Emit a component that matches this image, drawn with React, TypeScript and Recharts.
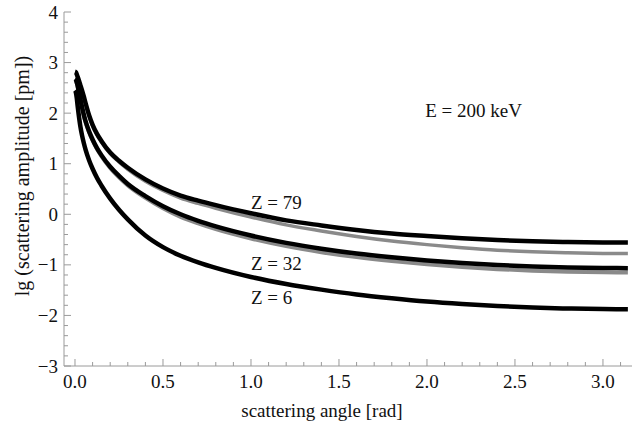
import React from 'react';
import { LineChart, Line, XAxis, YAxis, ReferenceDot } from 'recharts';

const angles = [0, 0.005, 0.01, 0.015, 0.02, 0.03, 0.04, 0.05, 0.06, 0.08, 0.1, 0.125, 0.15, 0.2, 0.25, 0.3, 0.4, 0.5, 0.6, 0.7, 0.8, 1.0, 1.2, 1.4, 1.6, 1.8, 2.0, 2.2, 2.4, 2.6, 2.8, 3.0, 3.1416];

const z79 = [2.82, 2.81, 2.77, 2.72, 2.67, 2.56, 2.45, 2.33, 2.2, 1.96, 1.77, 1.59, 1.45, 1.22, 1.06, 0.92, 0.69, 0.51, 0.37, 0.27, 0.18, 0.02, -0.12, -0.22, -0.31, -0.38, -0.43, -0.475, -0.51, -0.535, -0.55, -0.558, -0.56];
const z79Gray = [2.8, 2.79, 2.75, 2.7, 2.65, 2.54, 2.43, 2.31, 2.18, 1.94, 1.75, 1.57, 1.43, 1.2, 1.035, 0.89, 0.655, 0.47, 0.32, 0.215, 0.12, -0.055, -0.21, -0.33, -0.44, -0.53, -0.6, -0.66, -0.71, -0.742, -0.762, -0.774, -0.777];
const z32 = [2.68, 2.66, 2.61, 2.54, 2.46, 2.29, 2.12, 1.97, 1.84, 1.64, 1.48, 1.31, 1.17, 0.94, 0.76, 0.6, 0.36, 0.16, 0.0, -0.13, -0.24, -0.42, -0.565, -0.68, -0.775, -0.85, -0.913, -0.963, -1.003, -1.032, -1.051, -1.062, -1.065];
const z32Gray = [2.66, 2.64, 2.59, 2.52, 2.44, 2.27, 2.1, 1.95, 1.82, 1.62, 1.46, 1.29, 1.15, 0.915, 0.73, 0.57, 0.325, 0.12, -0.05, -0.18, -0.295, -0.48, -0.63, -0.75, -0.847, -0.925, -0.99, -1.043, -1.085, -1.115, -1.135, -1.147, -1.15];
const z6 = [2.45, 2.41, 2.3, 2.14, 2.0, 1.75, 1.56, 1.41, 1.28, 1.07, 0.9, 0.72, 0.57, 0.31, 0.09, -0.1, -0.42, -0.65, -0.82, -0.95, -1.06, -1.24, -1.38, -1.49, -1.585, -1.66, -1.725, -1.775, -1.815, -1.845, -1.863, -1.874, -1.876];

const xMajor = [0, 0.5, 1.0, 1.5, 2.0, 2.5, 3.0];
const xTicks = [0, 0.1, 0.2, 0.3, 0.4, 0.5, 0.6, 0.7, 0.8, 0.9, 1.0, 1.1, 1.2, 1.3, 1.4, 1.5, 1.6, 1.7, 1.8, 1.9, 2.0, 2.1, 2.2, 2.3, 2.4, 2.5, 2.6, 2.7, 2.8, 2.9, 3.0, 3.1];
const yMajor = [-3, -2, -1, 0, 1, 2, 3, 4];
const yTicks = [-3, -2.8, -2.6, -2.4, -2.2, -2, -1.8, -1.6, -1.4, -1.2, -1, -0.8, -0.6, -0.4, -0.2, 0, 0.2, 0.4, 0.6, 0.8, 1, 1.2, 1.4, 1.6, 1.8, 2, 2.2, 2.4, 2.6, 2.8, 3, 3.2, 3.4, 3.6, 3.8, 4];

const labels = [
  { x: 1.0, y: 0.23, text: 'Z = 79' },
  { x: 1.0, y: -0.97, text: 'Z = 32' },
  { x: 1.0, y: -1.65, text: 'Z = 6' },
  { x: 1.99, y: 2.06, text: 'E = 200 keV' },
];

const data = angles.map((x, i) => ({
  x,
  z79: z79[i],
  z79Gray: z79Gray[i],
  z32: z32[i],
  z32Gray: z32Gray[i],
  z6: z6[i],
}));

const FONT = "'Liberation Serif', 'Times New Roman', serif";
const FRAME = '#9a9a9a';
const textStyle = { fontFamily: FONT, fontSize: 19 };

const isMajor = (list: number[], v: number) => list.some((m) => Math.abs(m - v) < 1e-6);

function BottomTick({ x, y, payload }: any) {
  const major = isMajor(xMajor, payload.value);
  return (
    <g>
      <line x1={x} x2={x} y1={y} y2={y - (major ? 7 : 4)} stroke={FRAME} />
      {major && (
        <text x={x} y={y + 15} textAnchor="middle" dominantBaseline="central" style={textStyle} fill="#111">
          {payload.value.toFixed(1)}
        </text>
      )}
    </g>
  );
}

function TopTick({ x, y, payload }: any) {
  const major = isMajor(xMajor, payload.value);
  return <line x1={x} x2={x} y1={y} y2={y + (major ? 7 : 4)} stroke={FRAME} />;
}

function LeftTick({ x, y, payload }: any) {
  const major = isMajor(yMajor, payload.value);
  return (
    <g>
      <line x1={x} x2={x + (major ? 7 : 4)} y1={y} y2={y} stroke={FRAME} />
      {major && (
        <text x={x - 6} y={y} textAnchor="end" dominantBaseline="central" style={textStyle} fill="#111">
          {String(payload.value).replace('-', '\u2212')}
        </text>
      )}
    </g>
  );
}

function RightTick({ x, y, payload }: any) {
  const major = isMajor(yMajor, payload.value);
  return <line x1={x} x2={x - (major ? 7 : 4)} y1={y} y2={y} stroke={FRAME} />;
}

function YTitle({ viewBox }: any) {
  const cx = 22;
  const cy = viewBox.y + viewBox.height / 2 - 13;
  return (
    <text x={cx} y={cy} transform={`rotate(-90 ${cx} ${cy})`} textAnchor="middle" dominantBaseline="central" style={{ ...textStyle, fontSize: 20 }} fill="#111">
      lg (scattering amplitude [pm])
    </text>
  );
}

function XTitle({ viewBox }: any) {
  const cx = viewBox.x + viewBox.width / 2 - 26;
  return (
    <text x={cx} y={410} textAnchor="middle" dominantBaseline="central" style={textStyle} fill="#111">
      scattering angle [rad]
    </text>
  );
}

function Annot({ viewBox, value }: any) {
  return (
    <text x={viewBox.x + viewBox.width / 2} y={viewBox.y + viewBox.height / 2} textAnchor="start" dominantBaseline="central" style={textStyle} fill="#111">
      {value}
    </text>
  );
}

export default function App() {
  const domainX: [number, number] = [-0.0625, 3.165];
  const domainY: [number, number] = [-3, 4];
  return (
    <div style={{ position: 'absolute', left: 0, top: 0, width: 640, height: 424, background: '#fff' }}>
      <LineChart width={640} height={424} data={data} margin={{ top: 12, right: 8, left: 0, bottom: 0 }}>
        <XAxis
          xAxisId="b"
          dataKey="x"
          type="number"
          domain={domainX}
          allowDataOverflow
          ticks={xTicks}
          interval={0}
          height={58}
          tickSize={0}
          tickMargin={0}
          tickLine={false}
          axisLine={{ stroke: FRAME }}
          tick={<BottomTick />}
          label={<XTitle />}
        />
        <XAxis
          xAxisId="t"
          orientation="top"
          dataKey="x"
          type="number"
          domain={domainX}
          allowDataOverflow
          ticks={xTicks}
          interval={0}
          height={0}
          tickSize={0}
          tickMargin={0}
          tickLine={false}
          axisLine={{ stroke: FRAME }}
          tick={<TopTick />}
        />
        <YAxis
          yAxisId="l"
          type="number"
          domain={domainY}
          allowDataOverflow
          ticks={yTicks}
          interval={0}
          width={64}
          tickSize={0}
          tickMargin={0}
          tickLine={false}
          axisLine={{ stroke: FRAME }}
          tick={<LeftTick />}
          label={<YTitle />}
        />
        <YAxis
          yAxisId="r"
          orientation="right"
          type="number"
          domain={domainY}
          allowDataOverflow
          ticks={yTicks}
          interval={0}
          width={0}
          tickSize={0}
          tickMargin={0}
          tickLine={false}
          axisLine={{ stroke: FRAME }}
          tick={<RightTick />}
        />
        <Line xAxisId="b" yAxisId="l" type="monotone" dataKey="z79Gray" stroke="#8a8a8a" strokeWidth={3.5} dot={false} isAnimationActive={false} />
        <Line xAxisId="b" yAxisId="l" type="monotone" dataKey="z32Gray" stroke="#8a8a8a" strokeWidth={4} dot={false} isAnimationActive={false} />
        <Line xAxisId="b" yAxisId="l" type="monotone" dataKey="z79" stroke="#000" strokeWidth={4.5} dot={false} isAnimationActive={false} />
        <Line xAxisId="b" yAxisId="l" type="monotone" dataKey="z32" stroke="#000" strokeWidth={4.5} dot={false} isAnimationActive={false} />
        <Line xAxisId="b" yAxisId="l" type="monotone" dataKey="z6" stroke="#000" strokeWidth={4.5} dot={false} isAnimationActive={false} />
        {labels.map((l) => (
          <ReferenceDot
            key={l.text}
            xAxisId="b"
            yAxisId="l"
            x={l.x}
            y={l.y}
            r={1}
            fill="none"
            stroke="none"
            label={<Annot value={l.text} />}
          />
        ))}
      </LineChart>
    </div>
  );
}
